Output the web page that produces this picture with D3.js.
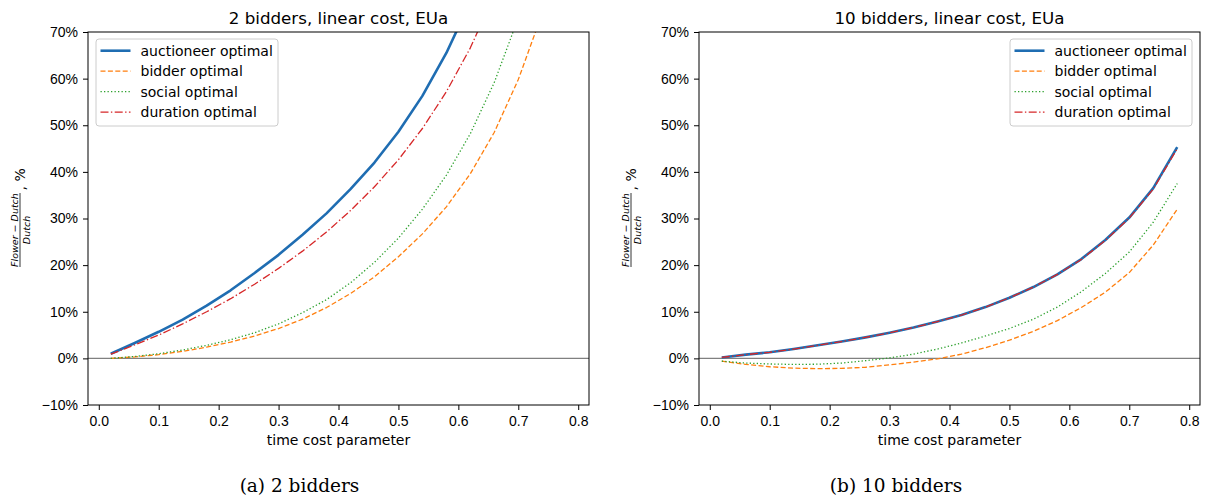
<!DOCTYPE html>
<html>
<head>
<meta charset="utf-8">
<script src="https://cdn.jsdelivr.net/npm/d3@7"></script>
<style>
  body { margin: 0; background: #fff; }
  svg { display: block; font-family: "DejaVu Sans", sans-serif; }
  .tick text { font-size: 14px; fill: #000; }
  .tick line { stroke: #000; stroke-width: 1; }
</style>
</head>
<body>
<svg id="chart" width="1208" height="498"></svg>
<script>
// time cost parameter
var costParam = [0.02, 0.06, 0.10, 0.14, 0.18, 0.22, 0.26, 0.30, 0.34, 0.38,
                 0.42, 0.46, 0.50, 0.54, 0.58, 0.62, 0.66, 0.70, 0.74, 0.78];

// 2 bidders, (Flower - Dutch) / Dutch in %
var twoAuctioneer = [1.0, 3.3, 5.7, 8.3, 11.3, 14.6, 18.3, 22.2, 26.5, 31.1,
                     36.3, 42.0, 48.6, 56.3, 65.5, 76.5, 90, 107, 128, 155];
var twoBidder     = [0.0, 0.3, 0.8, 1.5, 2.4, 3.5, 4.8, 6.4, 8.4, 10.9,
                     13.9, 17.5, 21.8, 26.7, 32.5, 39.6, 48.5, 59.8, 74, 92];
var twoSocial     = [0.0, 0.4, 1.0, 1.8, 2.8, 4.0, 5.5, 7.4, 9.8, 12.6,
                     16.2, 20.6, 25.8, 32.0, 39.3, 48.2, 59.2, 73, 91, 115];
var twoDuration   = [0.9, 2.9, 5.0, 7.4, 10.0, 12.8, 15.9, 19.3, 23.0, 27.1,
                     31.7, 36.8, 42.6, 49.3, 57.2, 66.6, 78, 92, 109, 130];

// 10 bidders
var tenAuctioneer = [0.2, 0.8, 1.3, 2.0, 2.8, 3.6, 4.5, 5.5, 6.6, 7.9,
                     9.3, 11.0, 13.0, 15.3, 18.0, 21.3, 25.4, 30.2, 36.5, 45.3];
var tenBidder     = [-0.6, -1.3, -1.8, -2.1, -2.2, -2.15, -1.9, -1.4, -0.8, -0.1,
                     0.9, 2.3, 3.9, 5.8, 8.1, 10.9, 14.2, 18.4, 24.3, 32.0];
var tenSocial     = [-0.6, -1.0, -1.2, -1.3, -1.25, -1.0, -0.5, 0.1, 0.9, 2.0,
                     3.3, 4.8, 6.4, 8.4, 11.0, 14.3, 18.2, 22.8, 29.2, 37.5];
var tenDuration   = [0.2, 0.8, 1.3, 2.0, 2.8, 3.6, 4.5, 5.5, 6.6, 7.9,
                     9.3, 11.0, 13.0, 15.3, 18.0, 21.2, 25.3, 30.1, 36.3, 45.0];

var seriesNames = ["auctioneer optimal", "bidder optimal", "social optimal", "duration optimal"];
var xTicks = [0, 0.1, 0.2, 0.3, 0.4, 0.5, 0.6, 0.7, 0.8];
var yTicks = [-10, 0, 10, 20, 30, 40, 50, 60, 70];

var styles = [
  { color: "#1f6db2", width: 2.6, dash: null },
  { color: "#ff7f0e", width: 1.3, dash: "5,2.4" },
  { color: "#2ca02c", width: 1.3, dash: "1.3,2.2" },
  { color: "#d62728", width: 1.3, dash: "8,2.4,1.4,2.4" }
];

var panels = [
  { title: "2 bidders, linear cost, EUa", caption: "(a) 2 bidders", left: 88,
    data: [twoAuctioneer, twoBidder, twoSocial, twoDuration], legendX: 96 },
  { title: "10 bidders, linear cost, EUa", caption: "(b) 10 bidders", left: 699,
    data: [tenAuctioneer, tenBidder, tenSocial, tenDuration], legendX: 1010 }
];

var svg = d3.select("#chart");
var plotTop = 32, plotH = 373, plotW = 501;

panels.forEach(function(p, pi) {
  var x = d3.scaleLinear().domain([-0.018, 0.818]).range([p.left, p.left + plotW]);
  var y = d3.scaleLinear().domain([-10, 70]).range([plotTop + plotH, plotTop]);

  var g = svg.append("g");

  g.append("clipPath").attr("id", "clip" + pi)
    .append("rect")
    .attr("x", p.left).attr("y", plotTop).attr("width", plotW).attr("height", plotH);

  // zero line
  g.append("line")
    .attr("x1", p.left).attr("x2", p.left + plotW)
    .attr("y1", y(0)).attr("y2", y(0))
    .attr("stroke", "#808080").attr("stroke-width", 1.2);

  var line = d3.line()
    .x(function(d, i) { return x(costParam[i]); })
    .y(function(d) { return y(d); });

  var lines = g.append("g").attr("clip-path", "url(#clip" + pi + ")");
  [0, 1, 2, 3].forEach(function(k) {
    lines.append("path")
      .datum(p.data[k])
      .attr("d", line)
      .attr("fill", "none")
      .attr("stroke", styles[k].color)
      .attr("stroke-width", styles[k].width)
      .attr("stroke-dasharray", styles[k].dash)
      .attr("stroke-linejoin", "round");
  });

  // axes
  g.append("g")
    .attr("transform", "translate(0," + (plotTop + plotH) + ")")
    .call(d3.axisBottom(x).tickValues(xTicks).tickFormat(d3.format(".1f"))
      .tickSize(5).tickSizeOuter(0).tickPadding(6.5))
    .call(function(a) { a.select(".domain").remove(); });

  g.append("g")
    .attr("transform", "translate(" + p.left + ",0)")
    .call(d3.axisLeft(y).tickValues(yTicks)
      .tickFormat(function(d) { return (d < 0 ? "\u2212" + (-d) : d) + "%"; })
      .tickSize(5).tickSizeOuter(0).tickPadding(5))
    .call(function(a) { a.select(".domain").remove(); });

  // frame
  g.append("rect")
    .attr("x", p.left).attr("y", plotTop).attr("width", plotW).attr("height", plotH)
    .attr("fill", "none").attr("stroke", "#000").attr("stroke-width", 1);

  // title
  g.append("text")
    .attr("x", p.left + plotW / 2).attr("y", 24)
    .attr("text-anchor", "middle")
    .attr("font-size", 16.7)
    .text(p.title);

  // x label
  g.append("text")
    .attr("x", p.left + plotW / 2).attr("y", 445)
    .attr("text-anchor", "middle")
    .attr("font-size", 14)
    .text("time cost parameter");

  // y label as a fraction
  var yl = g.append("g")
    .attr("transform", "translate(" + (p.left - 68) + ",218.5) rotate(-90)");
  yl.append("text")
    .attr("x", -11.5).attr("y", -2.5)
    .attr("text-anchor", "middle")
    .attr("font-size", 9.5).attr("font-style", "italic")
    .text("Flower \u2212 Dutch");
  yl.append("line")
    .attr("x1", -48.5).attr("x2", 25.5).attr("y1", 0).attr("y2", 0)
    .attr("stroke", "#000").attr("stroke-width", 0.8);
  yl.append("text")
    .attr("x", -11.5).attr("y", 9.5)
    .attr("text-anchor", "middle")
    .attr("font-size", 9.5).attr("font-style", "italic")
    .text("Dutch");
  yl.append("text")
    .attr("x", 28).attr("y", 4.5)
    .attr("font-size", 14)
    .text(", %");

  // legend
  var lg = g.append("g").attr("transform", "translate(" + p.legendX + ",39)");
  lg.append("rect")
    .attr("width", 182).attr("height", 87).attr("rx", 3)
    .attr("fill", "#fff").attr("fill-opacity", 0.8)
    .attr("stroke", "#cccccc").attr("stroke-width", 1);
  seriesNames.forEach(function(name, k) {
    var cy = 11.7 + k * 20.5;
    lg.append("line")
      .attr("x1", 4.5).attr("x2", 34.5).attr("y1", cy).attr("y2", cy)
      .attr("stroke", styles[k].color)
      .attr("stroke-width", styles[k].width)
      .attr("stroke-dasharray", styles[k].dash);
    lg.append("text")
      .attr("x", 44.5).attr("y", cy + 5)
      .attr("font-size", 14)
      .text(name);
  });

  // caption
  svg.append("text")
    .attr("x", pi === 0 ? 299.5 : 896).attr("y", 492)
    .attr("text-anchor", "middle")
    .attr("font-family", "'DejaVu Serif', serif")
    .attr("font-size", 18.5)
    .text(p.caption);
});
</script>
</body>
</html>
